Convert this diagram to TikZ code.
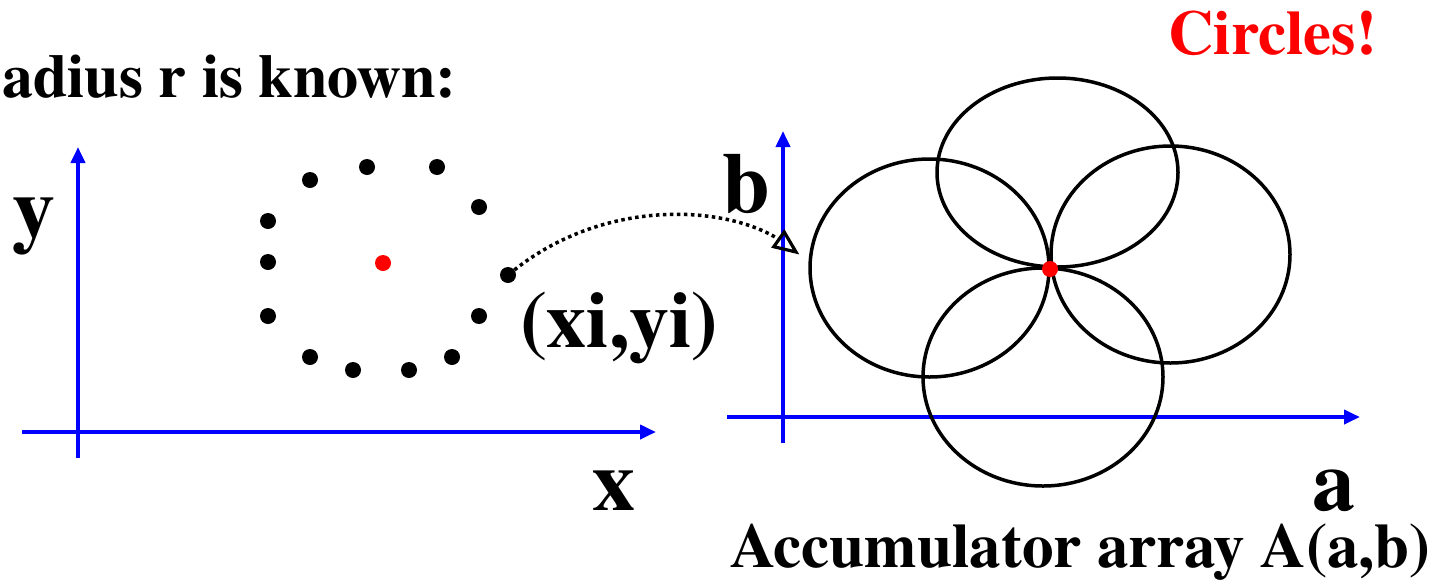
\documentclass[tikz,border=0pt]{standalone}
\usepackage{fontspec}
\IfFontExistsTF{texgyretermes-bold.otf}
 {\setmainfont{texgyretermes}[Extension=.otf,UprightFont=*-regular,BoldFont=*-bold]}
 {\setmainfont{Latin Modern Roman}}
\usetikzlibrary{arrows.meta}
\begin{document}
\begin{tikzpicture}[x=1pt,y=-1pt,
  axis/.style={blue, line width=3.8pt, -{Triangle[length=16pt,width=14pt]}},
  pt/.style={circle, fill=black, inner sep=0pt, minimum size=16pt},
  rpt/.style={circle, fill=red, inner sep=0pt, minimum size=16pt},
  lbl/.style={inner sep=0pt, anchor=base west, font=\bfseries\fontsize{86}{90}\selectfont},
  txt/.style={inner sep=0pt, anchor=base west, font=\bfseries\fontsize{62}{70}\selectfont},
  circ/.style={line width=3.5pt, draw=black},
  link/.style={line width=3.5pt, dash pattern=on 3.5pt off 3.5pt},
  linktip/.style={line width=3.2pt, solid, line join=miter, draw=black}]
\useasboundingbox (0,0) rectangle (1445,579);

% left axes
\coordinate (lyb) at (78,458);
\coordinate (lyt) at (78,147);
\coordinate (lxl) at (22,432);
\coordinate (lxr) at (656,432);
\draw[axis] (lyb) -- (lyt);
\draw[axis] (lxl) -- (lxr);

% right axes
\coordinate (ryb) at (783,443);
\coordinate (ryt) at (783,131);
\coordinate (rxl) at (727,417);
\coordinate (rxr) at (1360,417);
\draw[axis] (ryb) -- (ryt);
\draw[axis] (rxl) -- (rxr);

% edge points
\node[pt] (d1) at (310,180) {};
\node[pt] (d2) at (367,167) {};
\node[pt] (d3) at (437,167) {};
\node[pt] (d4) at (479,207) {};
\node[pt] (d5) at (268,221) {};
\node[pt] (d6) at (268,262) {};
\node[pt] (d7) at (508,275) {};
\node[pt] (d8) at (268,316) {};
\node[pt] (d9) at (479,316) {};
\node[pt] (d10) at (310,357) {};
\node[pt] (d11) at (353,370) {};
\node[pt] (d12) at (409,370) {};
\node[pt] (d13) at (452,357) {};
\node[rpt] (ctr) at (383,263) {};

% circles in accumulator space
\draw[circ] (929.5,268) ellipse [x radius=119.5pt, y radius=109pt];
\draw[circ] (1170.5,254.5) ellipse [x radius=119.5pt, y radius=108.5pt];
\draw[circ] (1057.5,172.5) ellipse [x radius=120.5pt, y radius=94.5pt];
\draw[circ] (1043,377) ellipse [x radius=120pt, y radius=109pt];
\node[rpt] (acc) at (1050,269) {};

% mapping arrow
\coordinate (tgt) at (796,252);
\coordinate (tgtb) at (779,239.4);
\coordinate (tc1) at (784.2,232);
\coordinate (tc2) at (773.8,246.7);
\draw[link] (d7) .. controls (605,198) and (725,205) .. (tgtb);
\draw[linktip] (tc1) -- (tgt) -- (tc2) -- cycle;

% texts
\node[txt] (title) at (2,97) {adius r is known:};
\node[txt, red, font=\bfseries\fontsize{63}{70}\selectfont] (circles) at (1168,54) {Circles!};
\node[lbl] (ylab) at (12,237) {y};
\node[lbl] (xlab) at (592,510) {x};
\node[lbl] (blab) at (722,212) {b};
\node[lbl] (alab) at (1312,510) {a};
\node[lbl, font=\bfseries\fontsize{80}{90}\selectfont] (xy) at (520,347) {(xi,yi)};
\node[txt, font=\bfseries\fontsize{63}{70}\selectfont] (accarr) at (730,567) {Accumulator array A(a,b)};
\end{tikzpicture}
\end{document}
